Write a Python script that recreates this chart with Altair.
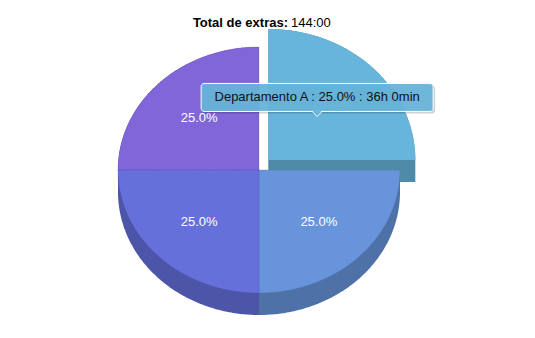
import altair as alt
import numpy as np
import pandas as pd

# ---------------- data ----------------
departments = ["Departamento A", "Departamento B", "Departamento C", "Departamento D"]
minutes = [2160, 2160, 2160, 2160]          # 36h 0min each
face_colors = ["#67B5DB", "#6894DC", "#6670DA", "#8066D9"]
side_colors = ["#4E8BA8", "#4E72A8", "#4D55A8", "#6150A8"]
exploded = [True, False, False, False]
title_bold = "Total de extras:"
tooltip_index = 0

# ---------------- layout ----------------
W, H = 535, 338
CX, CY = 259, 170
RX, RY = 141, 123
DEPTH = 22
EXPLODE_SHIFT = 13.5
EXPLODE_SCALE = (1.043, 1.065)
LABEL_F = 0.6
TIP_F = 0.47
FONT = "Liberation Sans"

total = sum(minutes)
fracs = [m / total for m in minutes]
cum = np.concatenate([[0], np.cumsum(fracs)])

geo_rows, label_rows, slice_geom = [], [], []
for i, dep in enumerate(departments):
    t0, t1 = cum[i] * 2 * np.pi, cum[i + 1] * 2 * np.pi
    mid = (t0 + t1) / 2
    cx, cy, rx, ry = CX, CY, RX, RY
    if exploded[i]:
        cx += EXPLODE_SHIFT * np.sin(mid) * 0.97
        cy -= EXPLODE_SHIFT * np.cos(mid) * 1.05
        rx *= EXPLODE_SCALE[0]
        ry *= EXPLODE_SCALE[1]
    slice_geom.append((cx, cy, rx, ry, mid))
    phis = np.linspace(t0, t1, 120)
    for p in phis:
        x = cx + rx * np.sin(p)
        ya = cy - ry * np.cos(p)
        geo_rows.append(dict(key=f"{i}-face", x=x, y=ya, y2=cy))
        geo_rows.append(dict(key=f"{i}-side", x=x, y=min(ya, cy), y2=max(ya, cy) + DEPTH))
    label_rows.append(dict(
        i=i,
        x=cx + rx * LABEL_F * np.sin(mid),
        y=cy - ry * LABEL_F * np.cos(mid),
        text=f"{fracs[i] * 100:.1f}%",
    ))

geo = pd.DataFrame(geo_rows)
labels = pd.DataFrame(label_rows)

xs = alt.Scale(domain=[0, W], nice=False, zero=False)
ys = alt.Scale(domain=[0, H], nice=False, zero=False, reverse=True)


def X(f="x"):
    return alt.X(f"{f}:Q", scale=xs, axis=None)


def Y(f="y"):
    return alt.Y(f"{f}:Q", scale=ys, axis=None)


layers = []
draw_order = sorted(range(len(departments)),
                    key=lambda k: (0 if exploded[k] else 1, -np.cos(slice_geom[k][4])))
for i in draw_order:
    for part, col in (("side", side_colors[i]), ("face", face_colors[i])):
        d = geo[geo.key == f"{i}-{part}"]
        kw = {}
        if part == "face" and not exploded[i]:
            kw = dict(stroke=side_colors[i], strokeWidth=0.8, strokeOpacity=0.35)
        layers.append(
            alt.Chart(d).mark_area(color=col, interpolate="linear", **kw).encode(
                x=X(), y=Y(), y2=alt.Y2("y2:Q")
            )
        )

layers.append(
    alt.Chart(labels).mark_text(font=FONT, fontSize=13, color="white", align="center",
                                baseline="middle").encode(x=X(), y=Y(), text="text:N")
)

# ---------------- title ----------------
th, tm = divmod(total, 60)
title_df = pd.DataFrame([dict(x=CX + 29, y=27, t=title_bold)])
value_df = pd.DataFrame([dict(x=CX + 32, y=27, t=f"{th}:{tm:02d}")])
layers.append(alt.Chart(title_df).mark_text(font=FONT, fontSize=13, fontWeight="bold", color="#000",
                                             align="right", baseline="alphabetic").encode(x=X(), y=Y(), text="t:N"))
layers.append(alt.Chart(value_df).mark_text(font=FONT, fontSize=13, color="#000",
                                             align="left", baseline="alphabetic").encode(x=X(), y=Y(), text="t:N"))

# ---------------- tooltip ----------------
cx, cy, rx, ry, mid = slice_geom[tooltip_index]
tx = cx + rx * TIP_F * np.sin(mid)
ty = cy - ry * TIP_F * np.cos(mid)
m = minutes[tooltip_index]
tip_text = f"{departments[tooltip_index]} : {fracs[tooltip_index] * 100:.1f}% : {m // 60}h {m % 60}min"
box = pd.DataFrame([dict(x=tx - 116, x2=tx + 116, y=ty - 33, y2=ty - 5, sx=tx - 115, sx2=tx + 118,
                         sy=ty - 31, sy2=ty - 3, tx=tx, ty=ty - 15, px=tx, py=ty - 6, t=tip_text)])
layers.append(alt.Chart(box).mark_rect(cornerRadius=3, color="#000", opacity=0.18).encode(
    x=X("sx"), x2=alt.X2("sx2:Q"), y=Y("sy"), y2=alt.Y2("sy2:Q")))
layers.append(alt.Chart(box).mark_point(shape="M-1,0L1,0L0,1Z", filled=True, size=144, fill=face_colors[tooltip_index],
                                        stroke="white", strokeWidth=1, opacity=1).encode(x=X("px"), y=Y("py")))
layers.append(alt.Chart(box).mark_rect(cornerRadius=3, fill=face_colors[tooltip_index], fillOpacity=0.94,
                                       stroke="white", strokeWidth=1).encode(
    x=X("x"), x2=alt.X2("x2:Q"), y=Y("y"), y2=alt.Y2("y2:Q")))
layers.append(alt.Chart(box).mark_point(shape="M-1,0L1,0L0,1Z", filled=True, size=100, fill=face_colors[tooltip_index],
                                        strokeWidth=0, opacity=1).encode(x=X("px"), y=Y("py")))
layers.append(alt.Chart(box).mark_text(font=FONT, fontSize=13, color="#111", align="center",
                                       baseline="alphabetic").encode(x=X("tx"), y=Y("ty"), text="t:N"))

chart = alt.layer(*layers).properties(
    width=W, height=H, autosize=alt.AutoSizeParams(type="none"), padding=0, background="white"
).configure_view(stroke=None)

chart.save("out.html", embed_options={"renderer": "svg", "actions": False})
